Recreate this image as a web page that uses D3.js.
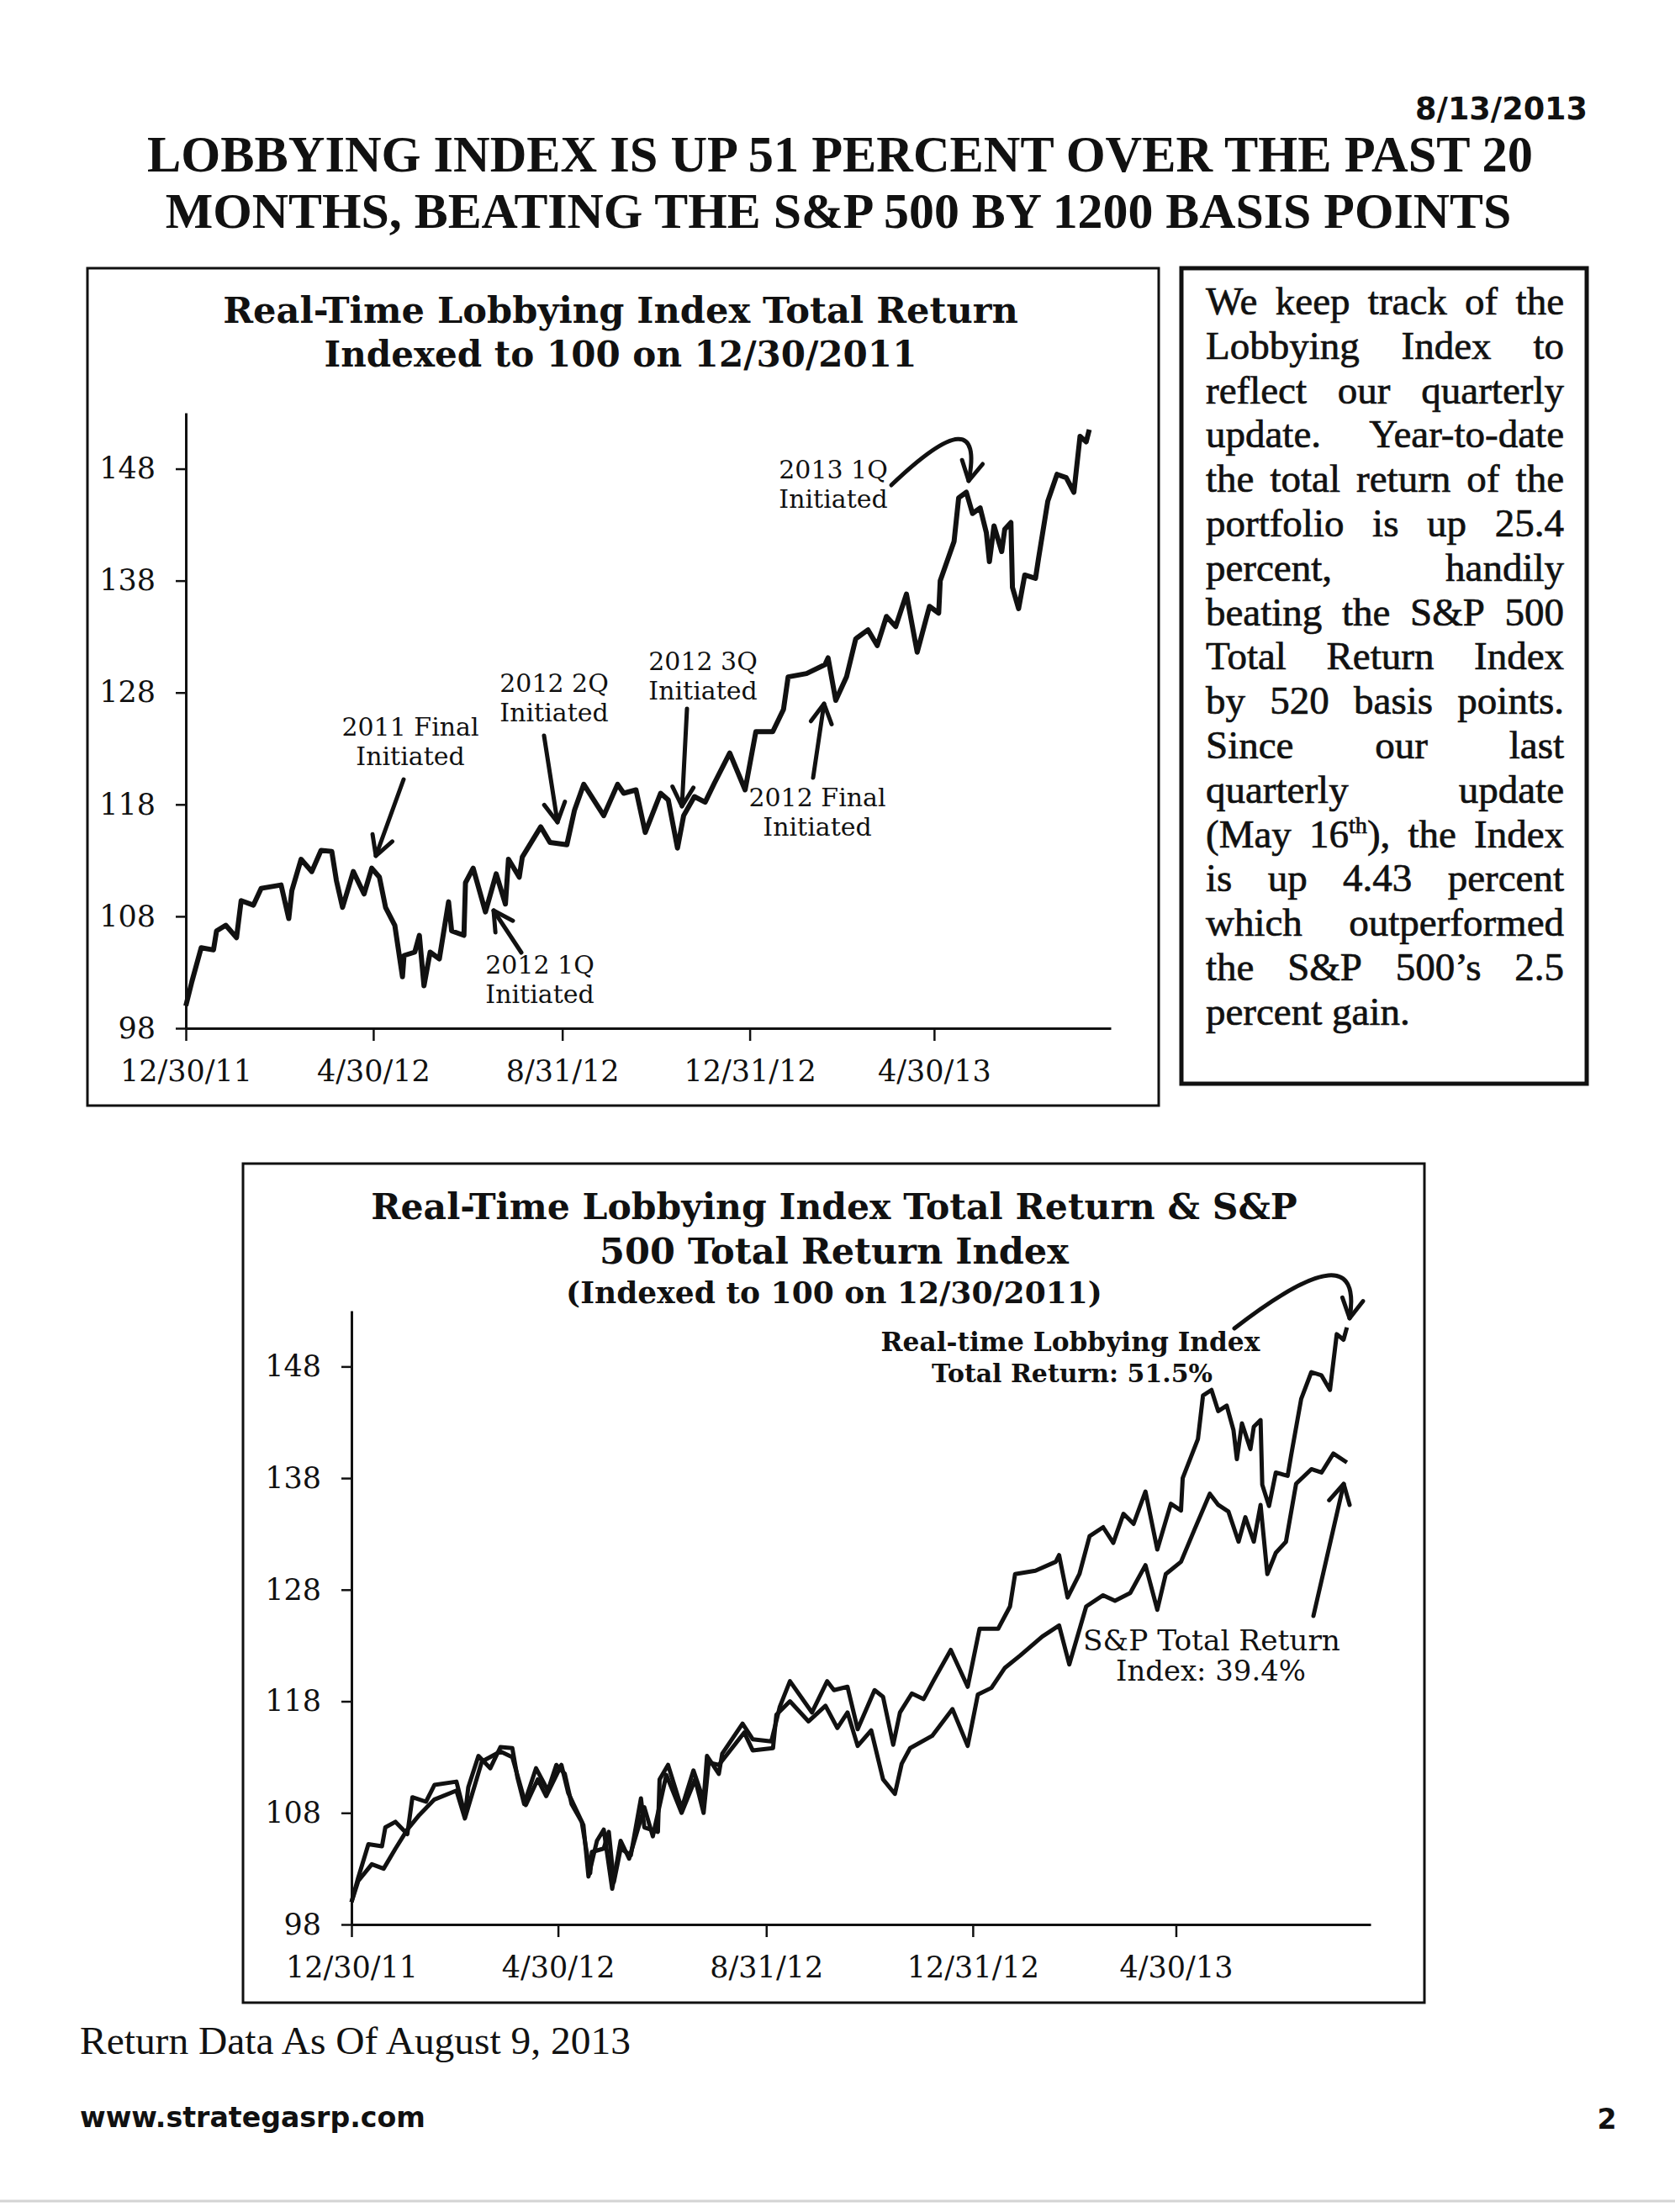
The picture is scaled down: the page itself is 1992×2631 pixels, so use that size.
<!DOCTYPE html>
<html>
<head>
<meta charset="utf-8">
<script src="https://cdn.jsdelivr.net/npm/d3@7"></script>
<style>
  body { margin: 0; background: #fff; }
  svg { display: block; }
</style>
</head>
<body>
<div id="page"></div>
<script>
// lobbying index total return, indexed to 100 on 12/30/2011
const lobbyDates = [
  "2011-12-30","2012-01-03","2012-01-09","2012-01-17","2012-01-19","2012-01-25","2012-02-01","2012-02-04",
  "2012-02-12","2012-02-17","2012-03-01","2012-03-06","2012-03-08","2012-03-14","2012-03-21","2012-03-27",
  "2012-04-03","2012-04-06","2012-04-10","2012-04-17","2012-04-24","2012-04-29","2012-05-04","2012-05-08",
  "2012-05-14","2012-05-19","2012-05-20","2012-05-27","2012-05-30","2012-06-02","2012-06-06","2012-06-12",
  "2012-06-18","2012-06-20","2012-06-28","2012-06-29","2012-07-04","2012-07-12","2012-07-19","2012-07-25",
  "2012-07-27","2012-08-03","2012-08-05","2012-08-17","2012-08-23","2012-09-03","2012-09-08","2012-09-14",
  "2012-09-27","2012-10-06","2012-10-10","2012-10-18","2012-10-24","2012-11-03","2012-11-08","2012-11-14",
  "2012-11-18","2012-11-25","2012-12-02","2012-12-08","2012-12-18","2012-12-28","2013-01-04","2013-01-15",
  "2013-01-22","2013-01-25","2013-02-06","2013-02-18","2013-02-20","2013-02-25","2013-03-04","2013-03-10",
  "2013-03-18","2013-03-24","2013-03-30","2013-04-05","2013-04-12","2013-04-19","2013-04-27","2013-05-03",
  "2013-05-04","2013-05-13","2013-05-16","2013-05-21","2013-05-25","2013-05-30","2013-06-03","2013-06-05",
  "2013-06-08","2013-06-13","2013-06-15","2013-06-19","2013-06-20","2013-06-24","2013-06-28","2013-07-05",
  "2013-07-07","2013-07-13","2013-07-19","2013-07-25","2013-07-30","2013-08-03","2013-08-07","2013-08-09"
];
const lobbyValues = [
  100.0, 102.2, 105.2, 105.0, 106.7, 107.2, 106.1, 109.4,
  109.0, 110.5, 110.8, 107.8, 110.3, 113.1, 112.0, 113.9,
  113.8, 111.2, 108.8, 112.0, 110.0, 112.3, 111.5, 108.8,
  107.2, 102.6, 104.5, 104.8, 106.3, 101.8, 104.8, 104.2,
  109.3, 106.7, 106.3, 111.0, 112.3, 108.4, 111.8, 109.1,
  113.1, 111.5, 113.3, 116.0, 114.6, 114.4, 117.5, 119.8,
  117.0, 119.8, 119.0, 119.3, 115.5, 119.0, 118.4, 114.1,
  117.0, 118.7, 118.2, 119.9, 122.6, 119.3, 124.5, 124.5,
  126.5, 129.4, 129.7, 130.5, 131.1, 127.3, 129.4, 132.8,
  133.6, 132.2, 134.8, 133.9, 136.8, 131.6, 135.7, 135.1,
  138.0, 141.5, 145.4, 145.9, 144.0, 144.5, 142.3, 139.7,
  142.9, 140.6, 142.6, 143.2, 137.4, 135.5, 138.5, 138.2,
  140.0, 145.1, 147.5, 147.2, 145.9, 150.9, 150.4, 151.5
];

// S&P 500 total return index, indexed to 100 on 12/30/2011
const spDates = [
  "2011-12-30","2012-01-03","2012-01-11","2012-01-18","2012-01-25","2012-02-01","2012-02-08","2012-02-17",
  "2012-03-01","2012-03-06","2012-03-16","2012-03-27","2012-04-03","2012-04-11","2012-04-18","2012-04-23",
  "2012-05-02","2012-05-06","2012-05-15","2012-05-18","2012-05-23","2012-05-27","2012-06-01","2012-06-06",
  "2012-06-11","2012-06-20","2012-06-25","2012-07-03","2012-07-12","2012-07-20","2012-07-25","2012-07-28",
  "2012-08-03","2012-08-18","2012-08-23","2012-09-04","2012-09-06","2012-09-14","2012-09-25","2012-10-05",
  "2012-10-12","2012-10-18","2012-10-24","2012-11-01","2012-11-08","2012-11-15","2012-11-19","2012-11-24",
  "2012-12-07","2012-12-19","2012-12-28","2013-01-03","2013-01-11","2013-01-19","2013-01-28","2013-02-10",
  "2013-02-20","2013-02-26","2013-03-08","2013-03-18","2013-03-25","2013-04-03","2013-04-12","2013-04-19",
  "2013-04-24","2013-05-03","2013-05-11","2013-05-20","2013-05-25","2013-05-31","2013-06-06","2013-06-10",
  "2013-06-15","2013-06-19","2013-06-23","2013-06-28","2013-07-04","2013-07-10","2013-07-19","2013-07-25",
  "2013-08-01","2013-08-09"
];
const spValues = [
  100.0, 101.9, 103.4, 103.0, 104.8, 106.5, 107.8, 109.2,
  110.0, 107.5, 112.6, 113.5, 113.0, 108.7, 111.0, 109.5,
  112.3, 109.8, 106.9, 102.3, 105.5, 106.5, 101.2, 105.5,
  103.9, 108.5, 105.9, 111.4, 108.0, 111.0, 108.0, 112.5,
  112.3, 115.2, 113.6, 113.8, 116.8, 118.0, 116.2, 117.6,
  115.6, 117.0, 114.0, 115.4, 111.0, 109.7, 112.4, 113.8,
  114.9, 117.3, 114.0, 118.6, 119.2, 121.0, 122.1, 123.8,
  124.8, 121.3, 126.5, 127.5, 127.0, 127.7, 130.2, 126.2,
  129.4, 130.5, 133.4, 136.6, 135.6, 135.0, 132.3, 134.5,
  132.3, 135.6, 129.4, 131.3, 132.3, 137.5, 138.8, 138.5,
  140.2, 139.4
];

const xTickDates = ["2011-12-30", "2012-04-30", "2012-08-31", "2012-12-31", "2013-04-30"];
const xTickLabels = ["12/30/11", "4/30/12", "8/31/12", "12/31/12", "4/30/13"];
const yTicks = [98, 108, 118, 128, 138, 148];
const xDomain = ["2011-12-30", "2013-08-23"];
const yDomain = [98, 153];

const boxLines = [
  "We keep track of the",
  "Lobbying Index to",
  "reflect our quarterly",
  "update. Year-to-date",
  "the total return of the",
  "portfolio is up 25.4",
  "percent, handily",
  "beating the S&P 500",
  "Total Return Index",
  "by 520 basis points.",
  "Since our last",
  "quarterly update",
  "(May 16^th), the Index",
  "is up 4.43 percent",
  "which outperformed",
  "the S&P 500\u2019s 2.5",
  "percent gain."
];

const parse = d3.timeParse("%Y-%m-%d");
const lobby = lobbyDates.map((d, i) => ({ date: parse(d), value: lobbyValues[i] }));
const sp = spDates.map((d, i) => ({ date: parse(d), value: spValues[i] }));

const INK = "#111";
const SERIF = "'DejaVu Serif', serif";
const TIMES = "'Liberation Serif', 'Times New Roman', serif";
const SANS = "'DejaVu Sans', Verdana, sans-serif";

const svg = d3.select("#page").append("svg")
  .attr("width", 1992)
  .attr("height", 2631);

svg.append("rect").attr("width", 1992).attr("height", 2631).attr("fill", "#fff");

// shrink or grow a text to a given width
function fit(t, w) {
  const len = t.node().getComputedTextLength();
  const fs = parseFloat(t.attr("font-size"));
  t.attr("font-size", fs * w / len);
  return t;
}

function label(x, y, str, size, opts = {}) {
  const t = svg.append("text")
    .attr("x", x).attr("y", y)
    .attr("font-family", opts.family || SERIF)
    .attr("font-size", size)
    .attr("font-weight", opts.weight || "normal")
    .attr("text-anchor", opts.anchor || "middle")
    .attr("fill", INK)
    .text(str);
  if (opts.width) fit(t, opts.width);
  return t;
}

function arrowHead(g, tx, ty, fx, fy, len = 26, ang = 0.5) {
  const a = Math.atan2(ty - fy, tx - fx);
  const p1 = [tx - len * Math.cos(a - ang), ty - len * Math.sin(a - ang)];
  const p2 = [tx - len * Math.cos(a + ang), ty - len * Math.sin(a + ang)];
  g.append("path")
    .attr("d", `M${p1}L${tx},${ty}L${p2}`)
    .attr("fill", "none").attr("stroke", INK)
    .attr("stroke-width", 5).attr("stroke-linecap", "round").attr("stroke-linejoin", "round");
}

function straightArrow(g, x1, y1, x2, y2) {
  g.append("line")
    .attr("x1", x1).attr("y1", y1).attr("x2", x2).attr("y2", y2)
    .attr("stroke", INK).attr("stroke-width", 5).attr("stroke-linecap", "round");
  arrowHead(g, x2, y2, x1, y1);
}

function curvedArrow(g, x1, y1, cx, cy, x2, y2) {
  g.append("path")
    .attr("d", `M${x1},${y1}Q${cx},${cy} ${x2},${y2}`)
    .attr("fill", "none").attr("stroke", INK)
    .attr("stroke-width", 5).attr("stroke-linecap", "round");
  arrowHead(g, x2, y2, cx, cy);
}

function drawChart(c) {
  const x = d3.scaleTime().domain(xDomain.map(parse)).range([c.x0, c.x1]);
  const y = d3.scaleLinear().domain(yDomain).range([c.y0, c.y1]);
  const g = svg.append("g");

  const ya = g.append("g")
    .attr("transform", `translate(${c.x0},0)`)
    .call(d3.axisLeft(y).tickValues(yTicks).tickSize(12).tickSizeOuter(0).tickPadding(24));
  const xa = g.append("g")
    .attr("transform", `translate(0,${c.y0})`)
    .call(d3.axisBottom(x).tickValues(xTickDates.map(parse)).tickSize(15).tickSizeOuter(0)
      .tickPadding(18).tickFormat((d, i) => xTickLabels[i]));

  [ya, xa].forEach(a => {
    a.select(".domain").attr("stroke", INK).attr("stroke-width", 3);
    a.selectAll(".tick line").attr("stroke", INK).attr("stroke-width", 2.5);
    a.selectAll(".tick text").attr("font-family", SERIF).attr("font-size", 35).attr("fill", INK);
  });
  xa.selectAll(".tick text").attr("dy", "0.85em");

  const line = d3.line().x(d => x(d.date)).y(d => y(d.value));
  c.series.forEach(s => {
    g.append("path")
      .datum(s)
      .attr("d", line)
      .attr("fill", "none")
      .attr("stroke", INK)
      .attr("stroke-width", c.lw)
      .attr("stroke-linejoin", "round");
  });
  return g;
}

// ---------- page header ----------
label(1888, 142, "8/13/2013", 34, { family: SANS, weight: "bold", anchor: "end", width: 205 });
label(999, 204, "LOBBYING INDEX IS UP 51 PERCENT OVER THE PAST 20", 54, { family: TIMES, weight: "bold", width: 1648 });
label(997, 271, "MONTHS, BEATING THE S&P 500 BY 1200 BASIS POINTS", 54, { family: TIMES, weight: "bold", width: 1601 });

// ---------- chart 1 ----------
svg.append("rect").attr("x", 104).attr("y", 319).attr("width", 1274).attr("height", 996)
  .attr("fill", "none").attr("stroke", INK).attr("stroke-width", 3);
label(738, 384, "Real-Time Lobbying Index Total Return", 42, { weight: "bold", width: 946 });
label(738, 436, "Indexed to 100 on 12/30/2011", 42, { weight: "bold", width: 705 });

const g1 = drawChart({ x0: 221, x1: 1321, y0: 1223, y1: 491, series: [lobby], lw: 6 });

const notes1 = [
  { lines: ["2011 Final", "Initiated"], x: 488, y: 875, tail: [480, 927], tip: [447, 1018] },
  { lines: ["2012 2Q", "Initiated"], x: 659, y: 823, tail: [647, 875], tip: [663, 978] },
  { lines: ["2012 1Q", "Initiated"], x: 642, y: 1158, tail: [620, 1133], tip: [587, 1083] },
  { lines: ["2012 3Q", "Initiated"], x: 836, y: 797, tail: [817, 843], tip: [811, 959] },
  { lines: ["2012 Final", "Initiated"], x: 972, y: 959, tail: [967, 925], tip: [980, 837] },
  { lines: ["2013 1Q", "Initiated"], x: 991, y: 569 }
];
notes1.forEach(n => {
  n.lines.forEach((s, i) => label(n.x, n.y + i * 35, s, 30));
  if (n.tail) straightArrow(g1, n.tail[0], n.tail[1], n.tip[0], n.tip[1]);
});
curvedArrow(g1, 1060, 577, 1172, 470, 1152, 572);

// ---------- text box ----------
svg.append("rect").attr("x", 1405).attr("y", 319).attr("width", 482).attr("height", 970)
  .attr("fill", "none").attr("stroke", INK).attr("stroke-width", 5);

const boxLeft = 1434, boxRight = 1860, boxTop = 374, boxStep = 52.8, boxSize = 47;
boxLines.forEach((ln, i) => {
  const yy = boxTop + i * boxStep;
  const words = ln.split(" ");
  const nodes = words.map(w => {
    const t = svg.append("text").attr("y", yy)
      .attr("font-family", TIMES).attr("font-size", boxSize).attr("fill", INK)
      .attr("stroke", INK).attr("stroke-width", 0.7);
    if (w.includes("^")) {
      const m = w.match(/^(\(?.*?)\^([a-z]+)(.*)$/);
      t.append("tspan").text(m[1]);
      t.append("tspan").attr("dy", -17).attr("font-size", boxSize * 0.6).text(m[2]);
      t.append("tspan").attr("dy", 17).text(m[3]);
    } else {
      t.text(w);
    }
    return t;
  });
  const widths = nodes.map(n => n.node().getComputedTextLength());
  const last = i === boxLines.length - 1;
  const gap = last ? boxSize * 0.25 : (boxRight - boxLeft - d3.sum(widths)) / (words.length - 1);
  let xx = boxLeft;
  nodes.forEach((n, j) => { n.attr("x", xx); xx += widths[j] + gap; });
});

// ---------- chart 2 ----------
svg.append("rect").attr("x", 289).attr("y", 1384).attr("width", 1405).attr("height", 998)
  .attr("fill", "none").attr("stroke", INK).attr("stroke-width", 3);
label(992, 1450, "Real-Time Lobbying Index Total Return & S&P", 42, { weight: "bold", width: 1102 });
label(992, 1503, "500 Total Return Index", 42, { weight: "bold", width: 558 });
label(992, 1550, "(Indexed to 100 on 12/30/2011)", 36, { weight: "bold", width: 638 });

const g2 = drawChart({ x0: 418, x1: 1630, y0: 2289, y1: 1559, series: [sp, lobby], lw: 5 });

label(1273, 1607, "Real-time Lobbying Index", 30, { weight: "bold", width: 451 });
label(1275, 1644, "Total Return: 51.5%", 30, { weight: "bold", width: 334 });
curvedArrow(g2, 1468, 1580, 1623, 1460, 1605, 1568);

label(1441, 1963, "S&P Total Return", 30, { width: 306 });
label(1440, 1999, "Index: 39.4%", 30, { width: 226 });
straightArrow(g2, 1562, 1922, 1598, 1765);

// ---------- footer ----------
label(95, 2443, "Return Data As Of August 9, 2013", 42, { family: TIMES, anchor: "start", width: 655 });
const www = label(95, 2530, "www.strategasrp.com", 34, { family: SANS, weight: "bold", anchor: "start", width: 411 });
label(1911, 2532, "2", www.attr("font-size"), { family: SANS, weight: "bold" });

svg.append("line").attr("x1", 0).attr("x2", 1992).attr("y1", 2618).attr("y2", 2618)
  .attr("stroke", "#d4d4d4").attr("stroke-width", 3);
</script>
</body>
</html>
